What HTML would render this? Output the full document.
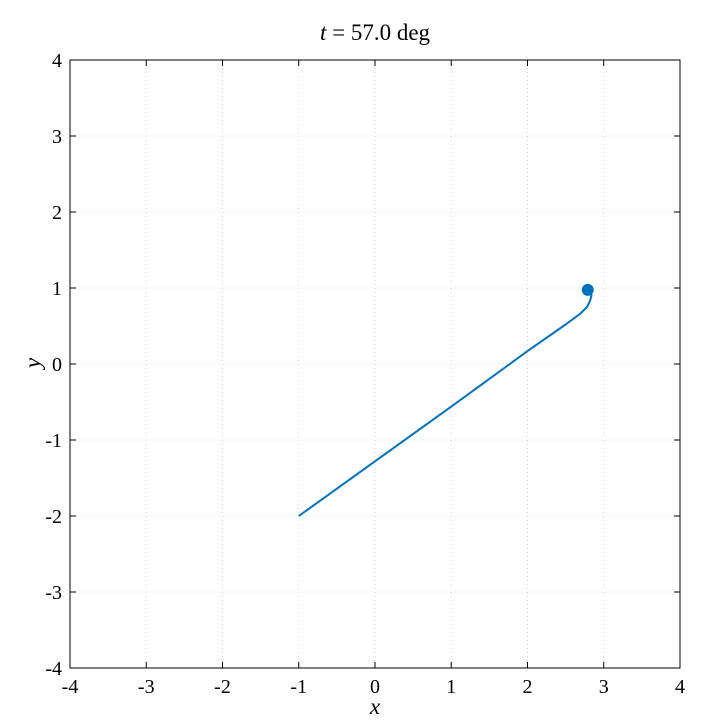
<!DOCTYPE html>
<html><head><meta charset="utf-8"><style>
body{margin:0;background:#fff;width:720px;height:720px;overflow:hidden}
svg text{font-family:"Liberation Serif",serif;fill:#000}
</style></head><body>
<svg id="chart" width="720" height="720" viewBox="0 0 720 720"></svg>
<script>
const trajX = [-1, 0, 1, 2, 2.5, 2.69, 2.78, 2.82, 2.84, 2.83, 2.79];
const trajY = [-2, -1.28, -0.56, 0.17, 0.52, 0.66, 0.75, 0.83, 0.9, 0.94, 0.975];
const pointX = [2.79];
const pointY = [0.975];
const xTicks = [-4, -3, -2, -1, 0, 1, 2, 3, 4];
const yTicks = [-4, -3, -2, -1, 0, 1, 2, 3, 4];
const titleText = "57.0";

const L=70,R=680,T=60,B=668;
const sx=v=>L+(v+4)/8*(R-L);
const sy=v=>B-(v+4)/8*(B-T);
const svg=document.getElementById('chart');
const NS='http://www.w3.org/2000/svg';
function mk(tag,attrs,parent){const e=document.createElementNS(NS,tag);for(const k in attrs)e.setAttribute(k,attrs[k]);(parent||svg).appendChild(e);return e;}

const grid=mk('g',{});


xTicks.forEach(v=>{
  if(v>-4&&v<4){const g=mk('line',{x1:sx(v),x2:sx(v),y1:T,y2:B,stroke:'#ccc','stroke-width':0.8,'stroke-dasharray':'1,3'},grid);
  }
  mk('line',{x1:sx(v),x2:sx(v),y1:B,y2:B-6,stroke:'#000'});
  mk('line',{x1:sx(v),x2:sx(v),y1:T,y2:T+6,stroke:'#000'});
  const t=mk('text',{x:sx(v),y:B+25,'text-anchor':'middle','font-size':20});
  t.textContent=v;
  
});
yTicks.forEach(v=>{
  if(v>-4&&v<4){const g=mk('line',{x1:L,x2:R,y1:sy(v),y2:sy(v),stroke:'#ccc','stroke-width':0.8,'stroke-dasharray':'1,3'},grid);
  }
  mk('line',{x1:L,x2:L+6,y1:sy(v),y2:sy(v),stroke:'#000'});
  mk('line',{x1:R,x2:R-6,y1:sy(v),y2:sy(v),stroke:'#000'});
  const t=mk('text',{x:L-8,y:sy(v)+7,'text-anchor':'end','font-size':20});
  t.textContent=v;
  
});
const frame=mk('rect',{x:L,y:T,width:R-L,height:B-T,fill:'none',stroke:'#000','stroke-width':1});


const d=trajX.map((x,i)=>(i?'L':'M')+sx(x).toFixed(1)+','+sy(trajY[i]).toFixed(1)).join(' ');
const path=mk('path',{d:d,fill:'none',stroke:'#0072BD','stroke-width':2,'stroke-linejoin':'round'});

pointX.forEach((x,i)=>{
  const c=mk('circle',{cx:sx(x),cy:sy(pointY[i]),r:6,fill:'#0072BD'});
  
});

const title=mk('text',{x:375,y:40,'text-anchor':'middle','font-size':23});
title.innerHTML='<tspan font-style="italic">t</tspan> = '+titleText+' deg';

const xl=mk('text',{x:375,y:714,'text-anchor':'middle','font-size':23,'font-style':'italic'});
xl.textContent='x';

const yl=mk('text',{x:0,y:0,'text-anchor':'middle','font-size':23,'font-style':'italic',transform:'translate(40,363) rotate(-90)'});
yl.textContent='y';

</script>
</body></html>
